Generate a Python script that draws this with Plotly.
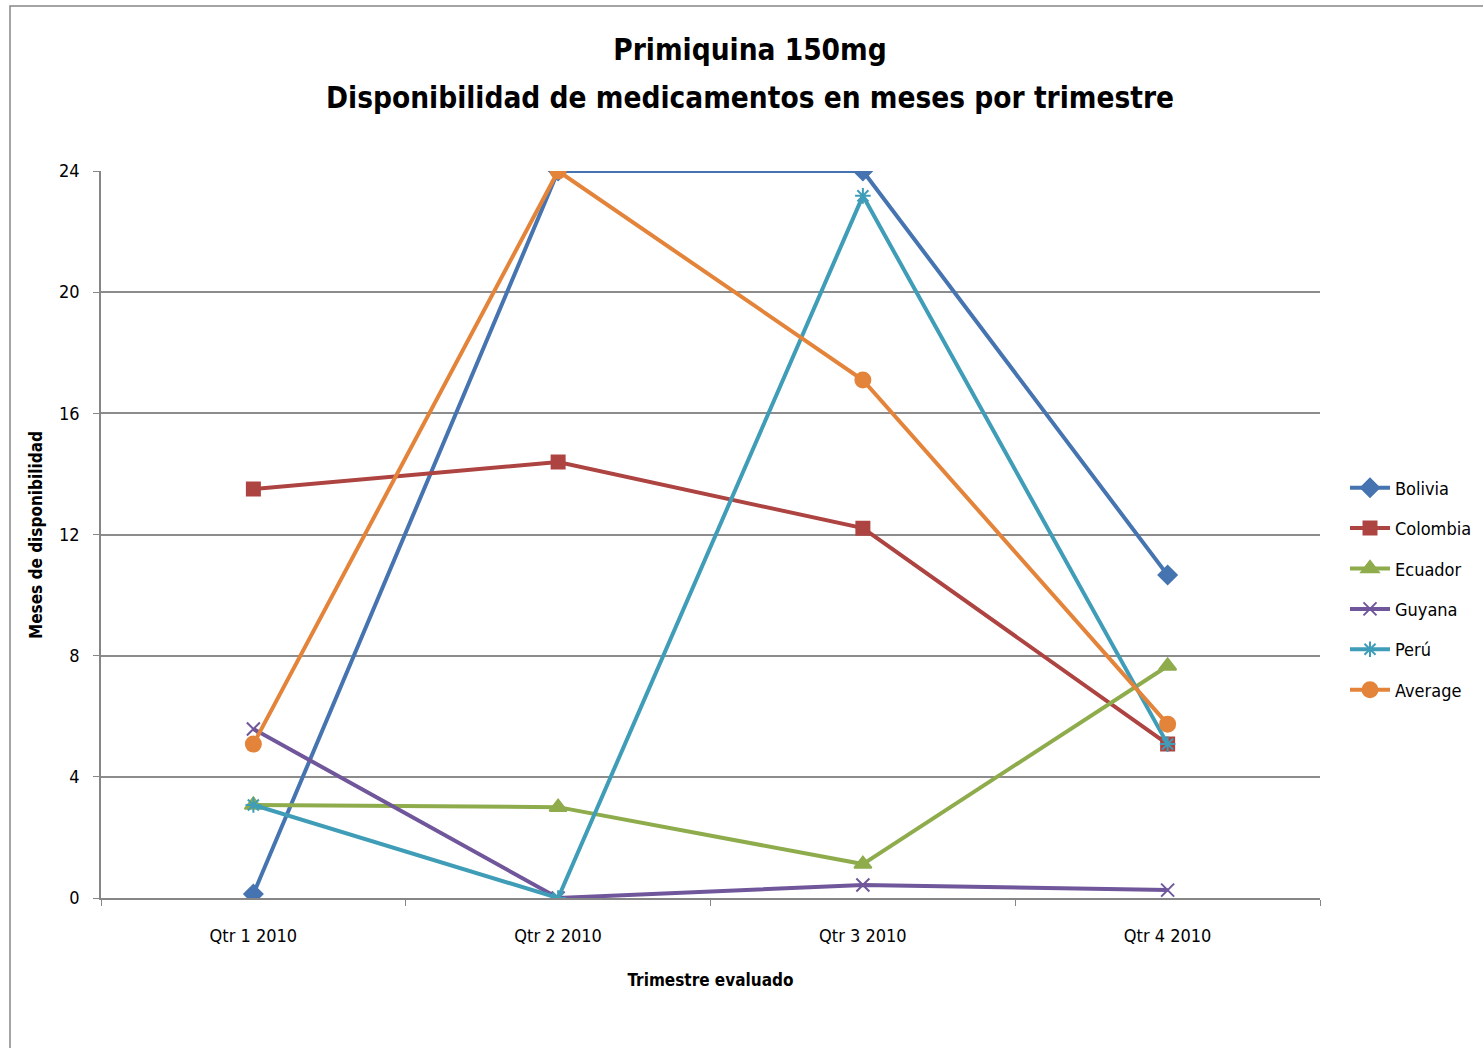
import plotly.graph_objects as go

categories = ["Qtr 1 2010", "Qtr 2 2010", "Qtr 3 2010", "Qtr 4 2010"]
bolivia = [0.13, 24.0, 24.0, 10.66]
colombia = [13.5, 14.39, 12.21, 5.08]
ecuador = [3.07, 3.0, 1.12, 7.66]
guyana = [5.58, 0.0, 0.43, 0.26]
peru = [3.07, 0.0, 23.18, 5.08]
average = [5.08, 24.0, 17.1, 5.74]

y_ticks = [0, 4, 8, 12, 16, 20, 24]

series = [
    ("Bolivia", bolivia, "#4674B0", "diamond", 14),
    ("Colombia", colombia, "#AE4441", "square", 13),
    ("Ecuador", ecuador, "#8EAC4C", "triangle-up", 15),
    ("Guyana", guyana, "#70569A", "x-thin-open", 13),
    ("Perú", peru, "#3F9DB8", "asterisk-open", 13),
    ("Average", average, "#E3843A", "circle", 15),
]

W, H = 1483, 1048
L, R, T, B = 101, 1320, 171, 898

fig = go.Figure()
for name, vals, color, sym, size in series:
    fig.add_trace(go.Scatter(
        x=categories, y=vals, name=name, mode="lines+markers",
        legendgroup=name,
        line=dict(color=color, width=4),
        marker=dict(symbol=sym, size=size, color=color,
                    line=dict(color=color, width=2)),
    ))

def px_x(p):
    return (p - L) / (R - L)

def px_y(p):
    return (B - p) / (B - T)

font_main = "DejaVu Sans Condensed, DejaVu Sans, sans-serif"

fig.update_layout(
    width=W, height=H,
    margin=dict(l=L, r=W - R, t=T, b=H - B, pad=0),
    paper_bgcolor="white", plot_bgcolor="white",
    title=dict(
        text="<b>Primiquina 150mg</b>",
        x=750 / W, xanchor="center", y=1 - 50 / H, yanchor="middle",
        font=dict(family=font_main, size=29.5, color="black"),
    ),
    annotations=[
        dict(
            text="<b>Disponibilidad de medicamentos en meses por trimestre</b>",
            xref="paper", yref="paper", x=px_x(750), y=px_y(98),
            xanchor="center", yanchor="middle", showarrow=False,
            font=dict(family=font_main, size=29.5, color="black"),
        ),
        dict(
            text="<b>Meses de disponibilidad</b>",
            xref="paper", yref="paper", x=px_x(36), y=px_y(535),
            xanchor="center", yanchor="middle", showarrow=False, textangle=-90,
            font=dict(family=font_main, size=17, color="black"),
        ),
    ],
    font=dict(family=font_main, size=17, color="black"),
    showlegend=True,
    legend=dict(
        xref="container", yref="container",
        x=1345 / W, y=1 - 589 / H, xanchor="left", yanchor="middle",
        font=dict(family=font_main, size=18, color="black"),
        tracegroupgap=14, traceorder="grouped", itemwidth=40,
        bgcolor="rgba(0,0,0,0)",
    ),
    xaxis=dict(
        type="category", range=[-0.5, 3.5], automargin=False,
        tickson="boundaries", ticks="outside", ticklen=6, tickcolor="#868686",
        showline=True, linecolor="#868686", linewidth=1.5,
        showgrid=False, zeroline=False,
        tickfont=dict(family=font_main, size=18),
        ticklabelstandoff=21,
        title=dict(text="<b>Trimestre evaluado</b>", standoff=29,
                   font=dict(family=font_main, size=17)),
    ),
    yaxis=dict(
        range=[0, 24], tickvals=y_ticks, ticks="outside", ticklen=6,
        tickcolor="#868686", automargin=False,
        showline=True, linecolor="#868686", linewidth=1.5,
        showgrid=True, gridcolor="#8C8C8C", gridwidth=1.5,
        zeroline=False,
        tickfont=dict(family=font_main, size=18),
        ticklabelstandoff=10,
    ),
    shapes=[dict(
        type="rect", xref="paper", yref="paper",
        x0=px_x(10), x1=px_x(1500), y0=px_y(1060), y1=px_y(6),
        line=dict(color="#868686", width=1.5), fillcolor="rgba(0,0,0,0)",
        layer="below",
    )],
)

fig.write_html("out.html", config={"displayModeBar": False},
               post_script="document.body.style.margin='0';")
